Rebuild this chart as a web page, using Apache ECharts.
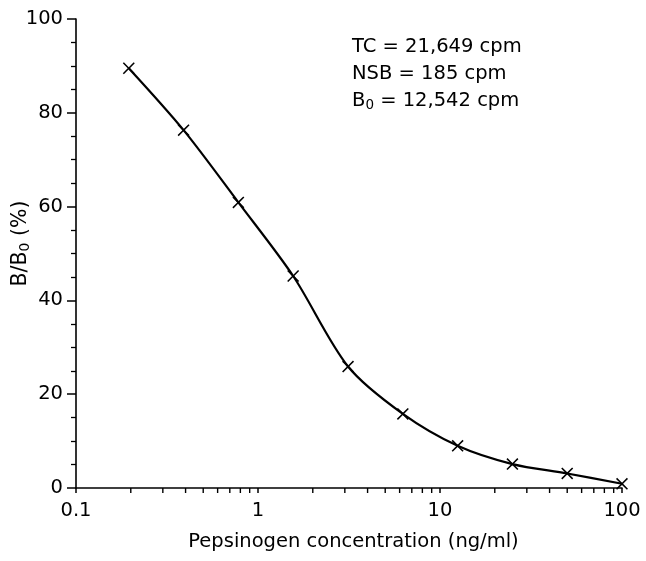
<!DOCTYPE html>
<html>
<head>
<meta charset="utf-8">
<script src="https://cdn.jsdelivr.net/npm/echarts@6/dist/echarts.min.js"></script>
<style>
html,body{margin:0;padding:0;background:#fff;}
#chart{width:646px;height:561px;}
</style>
</head>
<body>
<div id="chart"></div>
<script>
// Data
const concentrations = [0.195, 0.39, 0.78, 1.56, 3.125, 6.25, 12.5, 25, 50, 100];
const bOverB0 = [89.5, 76.3, 60.9, 45.2, 25.9, 15.8, 9.0, 5.1, 3.1, 0.9];
const xMinorTickValues = [0.2,0.3,0.4,0.5,0.6,0.7,0.8,0.9,2,3,4,5,6,7,8,9,20,30,40,50,60,70,80,90];
const xTickLabels = ['0.1', '1', '10', '100'];
const yTickLabels = ['0', '20', '40', '60', '80', '100'];
const annotations = ['TC = 21,649 cpm', 'NSB = 185 cpm', '{b|B}{s|0}{b| = 12,542 cpm}'];

const FONT = '"DejaVu Sans", "Liberation Sans", Arial, sans-serif';
const FS = 19.5;
const chart = echarts.init(document.getElementById('chart'), null, {renderer: 'canvas'});

const xMarker = 'path://M0,1.1 L1.1,0 L6,4.9 L10.9,0 L12,1.1 L7.1,6 L12,10.9 L10.9,12 L6,7.1 L1.1,12 L0,10.9 L4.9,6 Z';

chart.setOption({
  animation: false,
  backgroundColor: '#fff',
  grid: {left: 76, right: 24, top: 19, bottom: 73, containLabel: false, outerBoundsMode: 'none'},
  xAxis: {
    type: 'log', logBase: 10, min: 0.1, max: 100,
    name: 'Pepsinogen concentration (ng/ml)',
    nameLocation: 'middle', nameGap: 44, nameMoveOverlap: false,
    nameTextStyle: {fontFamily: FONT, fontSize: FS, color: '#000', padding: [0, 0, 0, 9]},
    axisLine: {lineStyle: {color: '#000', width: 1.6}},
    axisTick: {show: true, length: 5, lineStyle: {color: '#000', width: 1.5}},
    axisLabel: {fontFamily: FONT, fontSize: FS, color: '#000', margin: 13,
      formatter: function (v) { const s = String(+v.toPrecision(6)); return xTickLabels.indexOf(s) >= 0 ? s : ''; }},
    splitLine: {show: false}
  },
  yAxis: {
    type: 'value', min: 0, max: 100, interval: 20,
    name: '{a|B/B}{s|0}{a| (%)}',
    nameLocation: 'middle', nameGap: 44, nameMoveOverlap: false,
    nameTextStyle: {fontFamily: FONT, fontSize: 20.5, color: '#000', padding: [0, 0, 0, 20],
      rich: {a: {fontFamily: FONT, fontSize: 20.5, color: '#000'}, s: {fontFamily: FONT, fontSize: 14, color: '#000', padding: [9, 0, 0, 0]}}},
    axisLine: {show: true, lineStyle: {color: '#000', width: 1.6}},
    axisTick: {show: true, length: 9, lineStyle: {color: '#000', width: 1.5}},
    minorTick: {show: true, splitNumber: 4, length: 5, lineStyle: {color: '#000', width: 1.3}},
    axisLabel: {fontFamily: FONT, fontSize: FS, color: '#000', margin: 13,
      formatter: function (v) { return yTickLabels[Math.round(v / 20)]; }},
    splitLine: {show: false}
  },
  graphic: [
    {type: 'text', left: 352, top: 37, style: {text: annotations[0], font: FS + 'px ' + FONT, fill: '#000'}},
    {type: 'text', left: 352, top: 64, style: {text: annotations[1], font: FS + 'px ' + FONT, fill: '#000'}},
    {type: 'text', left: 352, top: 91, style: {text: annotations[2], fill: '#000',
      rich: {b: {fontFamily: FONT, fontSize: FS, color: '#000'}, s: {fontFamily: FONT, fontSize: 13.5, color: '#000', padding: [9, 0, 0, 0]}}}}
  ],
  series: [
    {
      type: 'line',
      data: concentrations.map((c, i) => [c, bOverB0[i]]),
      smooth: 0.3,
      symbol: xMarker,
      symbolSize: 12,
      showSymbol: true,
      lineStyle: {color: '#000', width: 2.2},
      itemStyle: {color: '#000', borderWidth: 0},
      z: 3
    },
    {
      type: 'custom',
      data: xMinorTickValues,
      clip: false,
      silent: true,
      renderItem: function (params, api) {
        const p = api.coord([api.value(0), 0]);
        return {type: 'line', shape: {x1: p[0], y1: p[1], x2: p[0], y2: p[1] + 5},
          style: {stroke: '#000', lineWidth: 1.4}};
      },
      encode: {x: 0}
    }
  ]
});
</script>
</body>
</html>
